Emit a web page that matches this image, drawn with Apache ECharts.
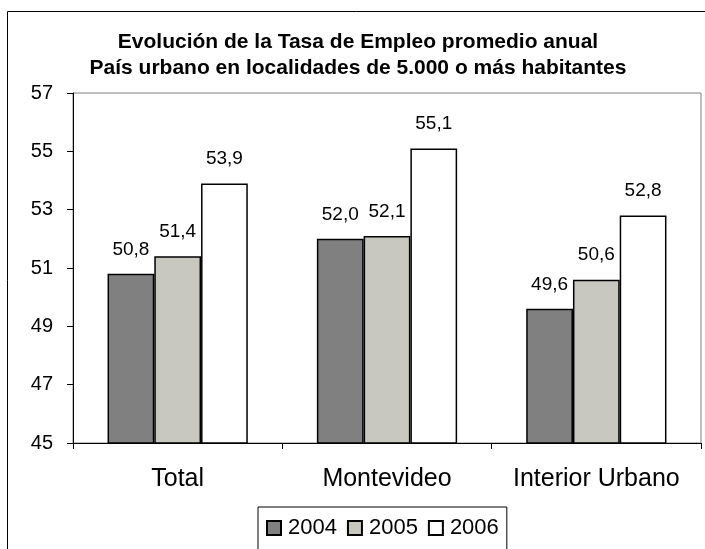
<!DOCTYPE html>
<html>
<head>
<meta charset="utf-8">
<script src="https://cdn.jsdelivr.net/npm/echarts@6/dist/echarts.min.js"></script>
<style>
html,body{margin:0;padding:0;background:#fff;}
#chart{width:705px;height:549px;}
</style>
</head>
<body>
<div id="chart"></div>
<script>
const categories = ['Total', 'Montevideo', 'Interior Urbano'];
const seriesNames = ['2004', '2005', '2006'];
const values2004 = [50.8, 52.0, 49.6];
const values2005 = [51.4, 52.1, 50.6];
const values2006 = [53.9, 55.1, 52.8];
const yTicks = [45, 47, 49, 51, 53, 55, 57];
const titleLines = ['Evolución de la Tasa de Empleo promedio anual', 'País urbano en localidades de 5.000 o más habitantes'];

const FONT = '"Liberation Sans", Arial, sans-serif';
const colors = ['#808080', '#c8c8c0', '#ffffff'];
const allValues = [values2004, values2005, values2006];

const chart = echarts.init(document.getElementById('chart'), null, {renderer: 'canvas'});

const series = seriesNames.map((name, i) => ({
  name: name,
  type: 'bar',
  data: allValues[i],
  barGap: '0%',
  barCategoryGap: '33%',
  itemStyle: {color: colors[i], borderColor: '#000', borderWidth: 1.5},
  label: {
    show: true,
    position: 'top',
    distance: 15,
    fontFamily: FONT,
    fontSize: 19,
    color: '#000',
    formatter: p => p.value.toFixed(1).replace('.', ',')
  },
  emphasis: {disabled: true}
}));

chart.setOption({
  animation: false,
  backgroundColor: '#fff',
  title: {
    text: titleLines.join('\n'),
    left: 358,
    textAlign: 'center',
    top: 29,
    padding: 0,
    textStyle: {fontFamily: FONT, fontSize: 21, fontWeight: 'bold', color: '#000', lineHeight: 26}
  },
  graphic: [{
    type: 'rect',
    shape: {x: 7.5, y: 11.5, width: 760, height: 640},
    style: {fill: 'none', stroke: '#000', lineWidth: 1},
    silent: true,
    z: -1
  }],
  legend: {
    data: seriesNames,
    left: 258,
    top: 507,
    orient: 'horizontal',
    padding: [10, 8, 24, 8],
    itemGap: 10,
    itemWidth: 14,
    itemHeight: 14,
    icon: 'rect',
    borderColor: '#000',
    borderWidth: 1,
    selectedMode: false,
    textStyle: {fontFamily: FONT, fontSize: 22, color: '#000', padding: [0, 0, 0, 2]}
  },
  grid: {
    left: 73, right: 4, top: 93, bottom: 106,
    show: true, borderColor: '#808080', borderWidth: 1, backgroundColor: 'transparent'
  },
  xAxis: {
    type: 'category',
    data: categories,
    axisLine: {lineStyle: {color: '#000', width: 1}},
    axisTick: {show: true, length: 6, lineStyle: {color: '#000'}},
    axisLabel: {fontFamily: FONT, fontSize: 25, color: '#000', margin: 24, interval: 0, hideOverlap: false}
  },
  yAxis: {
    type: 'value',
    min: yTicks[0],
    max: yTicks[yTicks.length - 1],
    interval: 2,
    axisLine: {show: true, lineStyle: {color: '#000', width: 1}},
    axisTick: {show: true, length: 6, lineStyle: {color: '#000'}},
    splitLine: {show: false},
    axisLabel: {fontFamily: FONT, fontSize: 20, color: '#000', margin: 20}
  },
  series: series
});
</script>
</body>
</html>
